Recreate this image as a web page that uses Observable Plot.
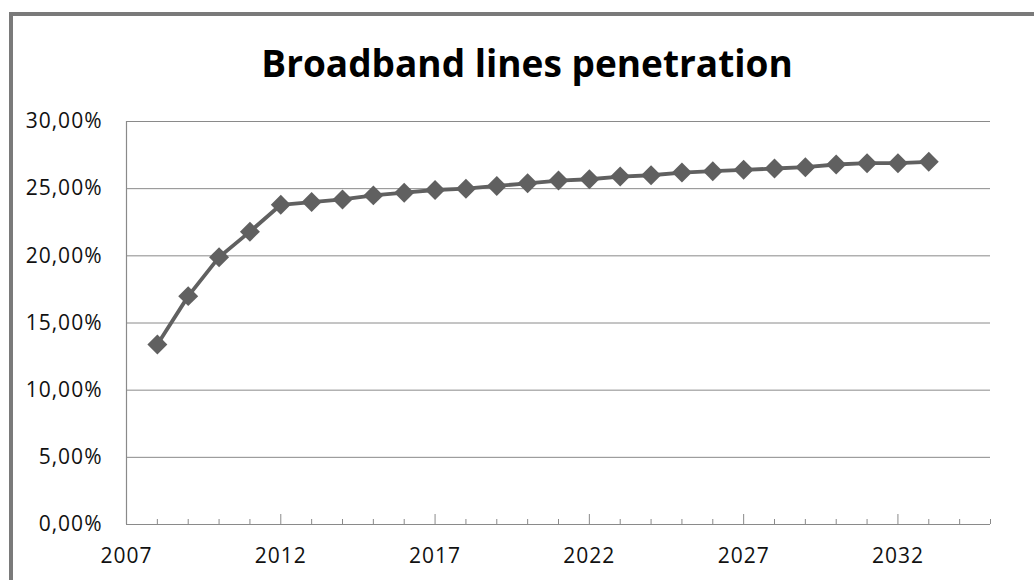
<!DOCTYPE html>
<html>
<head>
<meta charset="utf-8">
<script src="https://cdn.jsdelivr.net/npm/d3@7"></script>
<script src="https://cdn.jsdelivr.net/npm/@observablehq/plot@0.6"></script>
<style>
  html, body { margin: 0; padding: 0; background: #fff; }
  #wrap { position: relative; width: 1034px; height: 580px; overflow: hidden; background: #fff; }
  #frame { position: absolute; left: 9px; top: 12px; width: 1100px; height: 700px;
           border-left: 4px solid #7a7a7a; border-top: 4px solid #7a7a7a; box-sizing: border-box; pointer-events: none; }
  #title { height: 100px; box-sizing: border-box; padding-top: 37px; padding-left: 20px; margin: 0;
           text-align: center; font-family: "Open Sans", sans-serif; font-weight: bold; font-size: 37px;
           line-height: normal; color: #000; }
  #chart svg { display: block; }
</style>
</head>
<body>
<div id="wrap">
  <div id="frame"></div>
  <div id="title">Broadband lines penetration</div>
  <div id="chart"></div>
</div>
<script>
const years = [2008, 2009, 2010, 2011, 2012, 2013, 2014, 2015, 2016, 2017, 2018, 2019, 2020,
               2021, 2022, 2023, 2024, 2025, 2026, 2027, 2028, 2029, 2030, 2031, 2032, 2033];
const penetration = [13.4, 17.0, 19.9, 21.8, 23.8, 24.0, 24.2, 24.5, 24.7, 24.9, 25.0, 25.2, 25.4,
                     25.6, 25.7, 25.9, 26.0, 26.2, 26.3, 26.4, 26.5, 26.6, 26.8, 26.9, 26.9, 27.0];
const yTicks = [0, 5, 10, 15, 20, 25, 30];
const xLabelTicks = [2007, 2012, 2017, 2022, 2027, 2032];
const xMinorTicks = [2008, 2009, 2010, 2011, 2013, 2014, 2015, 2016, 2018, 2019, 2020, 2021, 2023,
                     2024, 2025, 2026, 2028, 2029, 2030, 2031, 2033, 2034, 2035];
const xDomain = [2007, 2035];
const yDomain = [0, 30];

const data = years.map((year, i) => ({year, value: penetration[i]}));
const fmtPct = d => d.toFixed(2).replace(".", ",") + "%";
const lineColor = "#606060";
const gridColor = "#8a8a8a";

const chart = Plot.plot({
  width: 1034,
  height: 480,
  marginTop: 21,
  marginBottom: 56,
  marginLeft: 126,
  marginRight: 44,
  style: {fontFamily: "'Open Sans', sans-serif", fontSize: "21px", color: "#111", background: "transparent", overflow: "visible", letterSpacing: "1px"},
  x: {domain: xDomain, axis: null, label: null},
  y: {domain: yDomain, axis: null, label: null},
  marks: [
    Plot.ruleY(yTicks.filter(d => d > 0), {stroke: gridColor, strokeWidth: 1}),
    Plot.ruleY([0], {stroke: gridColor, strokeWidth: 1.2}),
    Plot.ruleX([xDomain[0]], {stroke: gridColor, strokeWidth: 1.2}),
    Plot.axisY({ticks: yTicks, tickSize: 0, tickPadding: 24, tickFormat: fmtPct, fill: "#111", label: null}),
    Plot.axisX({ticks: xLabelTicks, tickSize: 0, tickPadding: 24, tickFormat: d => String(d), fill: "#111", label: null}),
    Plot.axisX({ticks: xLabelTicks, tickSize: -10, text: null, stroke: gridColor, label: null}),
    Plot.axisX({ticks: xMinorTicks, tickSize: -5, text: null, stroke: gridColor, label: null}),
    Plot.line(data, {x: "year", y: "value", stroke: lineColor, strokeWidth: 3.8}),
    Plot.dot(data, {x: "year", y: "value", symbol: "diamond2", r: 9, fill: lineColor, stroke: "none"})
  ]
});
document.getElementById("chart").appendChild(chart);
</script>
</body>
</html>
